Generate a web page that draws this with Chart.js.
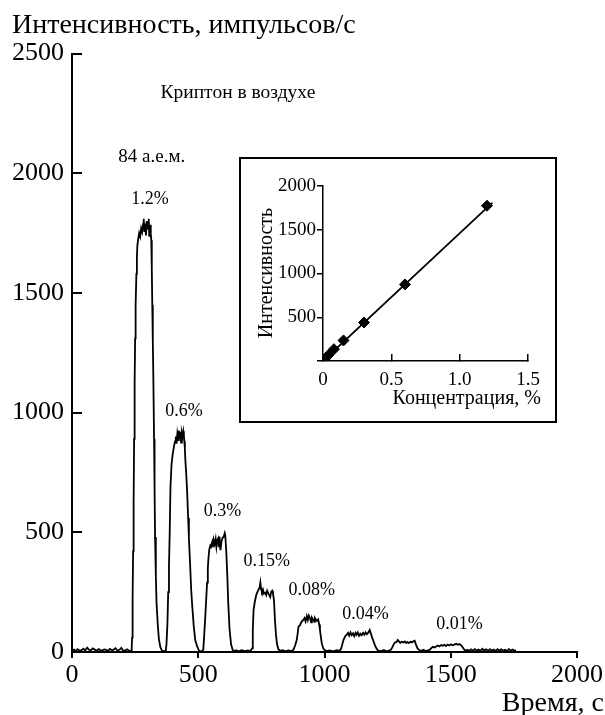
<!DOCTYPE html>
<html>
<head>
<meta charset="utf-8">
<script src="https://cdn.jsdelivr.net/npm/chart.js@4.4.1/dist/chart.umd.min.js"></script>
<style>
  html, body { margin: 0; padding: 0; background: #fff; }
  #wrap { position: relative; width: 605px; height: 715px; }
  #main { position: absolute; left: 0; top: 0; }
  #insetBox { position: absolute; left: 239px; top: 157px; width: 314px; height: 262px;
              border: 2px solid #000; background: #fff; }
</style>
</head>
<body>
<div id="wrap">
  <canvas id="main" width="605" height="715"></canvas>
  <div id="insetBox"><canvas id="inset" width="314" height="262"></canvas></div>
</div>
<script>
// main trace: time, s / intensity, counts per s
var timeSec = [
  0,8,15,22,30,38,45,52,60,68, 75,82,90,98,105,112,120,128,135,142, 150,158,165,172,180,188,195,202,210,218, 225,232,236,
  238,240,242,244,246,248,250,252,255,257, 259,262,266,270,274,278,282,284,287,290, 293,296,299,302,304,306,309,312,314,316, 318,320,322,325,327,329,332,335,340,344, 350,358,364,
  371,374,378,381,384,387,390,394,398,401, 405,408,411,414,417,420,423,426,429,432, 435,438,441,443,445,447,449,452,456,460, 463,468,472,476,482,488,496,503,509,515,
  520,523,528,532,535,538,541,544,548,551, 555,558,561,565,569,572,575,579,582,584, 588,592,596,601,605,607,611,615,619,624, 630,636,642,650,660,672,685,697,706,
  713,716,719,724,729,733,737,741,744,746, 749,752,756,760,765,769,773,778,782,785, 789,793,796,800,804,808,812,818,825,835, 845,858,870,
  877,883,890,894,897,903,909,916,921,925, 930,934,938,943,947,950,956,960,962,966, 970,975,979,982,986,989,995,1002,1009,1020, 1035,1048,1058,
  1064,1068,1075,1082,1088,1093,1098,1103,1108,1113, 1118,1123,1127,1132,1137,1142,1147,1153,1158,1163, 1168,1173,1179,1184,1188,1193,1200,1206,1212,1225, 1235,1245,1255,
  1262,1268,1273,1278,1285,1290,1295,1300,1305,1312, 1318,1323,1328,1333,1340,1346,1352,1357,1362,1368, 1375,1383,1392,1400,1410,
  1418,1423,1429,1436,1442,1449,1455,1462,1468,1475, 1481,1488,1494,1501,1507,1514,1521,1527,1534,1540, 1546,1552,1558,
  1565,1572,1580,1588,1595,1602,1610,1618,1625,1632, 1640,1648,1655,1662,1670,1678,1685,1692,1700,1708, 1715,1722,1730,1738,1745,1752,1758
];
var counts = [
  6,10,4,12,5,8,14,6,18,9, 7,15,10,5,12,8,6,11,9,4, 13,7,10,16,6,9,17,7,5,11, 6,4,5,
  60,220,420,620,890,1120,1310,1450,1580,1650, 1700,1725,1750,1735,1770,1755,1790,1810,1755,1790, 1740,1800,1765,1795,1810,1735,1785,1750,1720,1600, 1450,1300,1160,890,680,480,320,200,110,55, 20,2,4,
  3,30,120,250,355,500,690,780,820,840, 865,880,900,870,910,885,925,890,920,875, 915,900,922,906,880,850,800,752,670,560, 476,360,260,196,110,50,22,6,2,4,
  10,60,150,230,290,350,400,430,445,440, 458,438,468,450,472,440,466,475,438,482, 425,462,476,482,497,488,420,320,200,95, 32,9,4,7,3,8,4,7,3,
  15,90,175,210,235,248,256,266,276,290, 262,252,262,244,248,238,256,244,236,230, 252,256,245,215,130,70,32,10,5,8, 3,7,4,
  10,25,50,80,106,112,126,134,142,128, 150,134,152,140,124,144,134,126,142,135, 130,136,115,92,60,37,15,7,4,7, 3,8,5,
  10,22,50,66,72,80,68,82,70,78, 66,80,72,82,68,76,70,80,72,82, 75,80,92,76,62,48,28,14,6,4, 8,3,6,
  8,18,30,39,42,50,44,38,43,40, 44,38,42,37,43,40,45,47,32,16, 8,5,9,4,7,
  10,16,22,19,23,27,23,29,26,30, 25,31,27,32,28,31,34,30,33,29, 22,12,5,
  9,4,11,5,12,6,10,4,13,7, 11,5,12,6,10,4,12,6,11,5, 9,4,12,6,10,5,8
];

// peak labels (placed at time / intensity)
var noteTexts  = ['Криптон в воздухе', '84 а.е.м.', '1.2%', '0.6%', '0.3%', '0.15%', '0.08%', '0.04%', '0.01%'];
var noteTimes  = [657, 316, 309, 444, 596, 771, 949, 1162, 1535];
var noteCounts = [2334, 2068, 1892, 1004, 587, 378, 257, 156, 114];

// inset: calibration
var concPct = [1.2, 0.6, 0.3, 0.15, 0.08, 0.04, 0.01];
var concIntensity = [1775, 875, 440, 235, 135, 68, 15];
var fitPct = [0, 1.24];
var fitIntensity = [0, 1810];

var SERIF = "'Liberation Serif', 'Times New Roman', serif";
Chart.defaults.font.family = SERIF;
Chart.defaults.color = '#000';

function plainNum(v) { return String(v); }

var mainNotes = {
  id: 'mainNotes',
  afterDatasetsDraw: function(chart) {
    var ctx = chart.ctx, x = chart.scales.x, y = chart.scales.y;
    ctx.save();
    ctx.fillStyle = '#000';
    ctx.textAlign = 'center';
    ctx.textBaseline = 'middle';
    for (var i = 0; i < noteTexts.length; i++) {
      ctx.font = (i === 0 ? '19.5px ' : i === 1 ? '19px ' : '18px ') + SERIF;
      ctx.fillText(noteTexts[i], x.getPixelForValue(noteTimes[i]), y.getPixelForValue(noteCounts[i]));
    }
    ctx.font = '28px ' + SERIF;
    ctx.textAlign = 'right';
    ctx.fillText('Время, с', chart.width - 1, 704);
    ctx.restore();
  }
};

new Chart(document.getElementById('main'), {
  type: 'line',
  data: {
    datasets: [{
      data: timeSec.map(function(t, i) { return {x: t, y: counts[i]}; }),
      borderColor: '#000',
      borderWidth: 1.8,
      pointRadius: 0,
      tension: 0,
      fill: false
    }]
  },
  options: {
    responsive: false,
    animation: false,
    layout: { padding: { left: 12, right: 27, top: 0, bottom: 0 } },
    plugins: {
      legend: { display: false },
      tooltip: { enabled: false },
      title: {
        display: true,
        text: 'Интенсивность, импульсов/с',
        align: 'start',
        color: '#000',
        font: { size: 28, weight: 'normal' },
        padding: { top: 9, bottom: 11 }
      }
    },
    scales: {
      x: {
        type: 'linear', min: 0, max: 2000,
        ticks: { stepSize: 500, font: { size: 26 }, color: '#000', padding: 2, maxRotation: 0, callback: plainNum },
        grid: { drawOnChartArea: false, color: '#000', lineWidth: 2, tickLength: 6 },
        border: { color: '#000', width: 2 },
        afterFit: function(s) { s.height = 63; }
      },
      y: {
        min: 0, max: 2500,
        ticks: { stepSize: 500, font: { size: 26 }, color: '#000', padding: 18, callback: plainNum },
        grid: { drawOnChartArea: false, color: '#000', lineWidth: 2, tickLength: -10 },
        border: { color: '#000', width: 2 },
        afterFit: function(s) { s.width = 60; }
      }
    }
  },
  plugins: [mainNotes]
});

var insetTitles = {
  id: 'insetTitles',
  afterDraw: function(chart) {
    var ctx = chart.ctx;
    ctx.save();
    ctx.fillStyle = '#000';
    ctx.font = '20px ' + SERIF;
    ctx.textBaseline = 'middle';
    ctx.textAlign = 'right';
    ctx.fillText('Концентрация, %', 300, 240);
    ctx.translate(26, 114);
    ctx.rotate(-Math.PI / 2);
    ctx.textAlign = 'center';
    ctx.fillText('Интенсивность', 0, 0);
    ctx.restore();
  }
};

new Chart(document.getElementById('inset'), {
  type: 'scatter',
  data: {
    datasets: [{
      data: fitPct.map(function(c, i) { return {x: c, y: fitIntensity[i]}; }),
      showLine: true,
      borderColor: '#000',
      borderWidth: 1.8,
      pointRadius: 0
    }, {
      data: concPct.map(function(c, i) { return {x: c, y: concIntensity[i]}; }),
      pointStyle: 'rectRot',
      pointRadius: 5.5,
      backgroundColor: '#000',
      borderColor: '#000',
      borderWidth: 1
    }]
  },
  options: {
    responsive: false,
    animation: false,
    layout: { padding: { left: 0, right: 27, top: 27, bottom: 0 } },
    plugins: { legend: { display: false }, tooltip: { enabled: false } },
    scales: {
      x: {
        type: 'linear', min: 0, max: 1.5,
        ticks: { stepSize: 0.5, font: { size: 19 }, color: '#000', padding: 15, maxRotation: 0,
                 callback: function(v) { return v === 0 ? '0' : v.toFixed(1); } },
        grid: { drawOnChartArea: false, color: '#000', lineWidth: 1.5, tickLength: -7 },
        border: { color: '#000', width: 1.5 },
        afterFit: function(s) { s.height = 60; }
      },
      y: {
        min: 0, max: 2000,
        ticks: { stepSize: 500, font: { size: 19 }, color: '#000', padding: 1,
                 callback: function(v) { return v === 0 ? '' : String(v); } },
        grid: { drawOnChartArea: false, color: '#000', lineWidth: 1.5, tickLength: 6 },
        border: { color: '#000', width: 1.5 },
        afterFit: function(s) { s.width = 82; }
      }
    }
  },
  plugins: [insetTitles]
});
</script>
</body>
</html>
